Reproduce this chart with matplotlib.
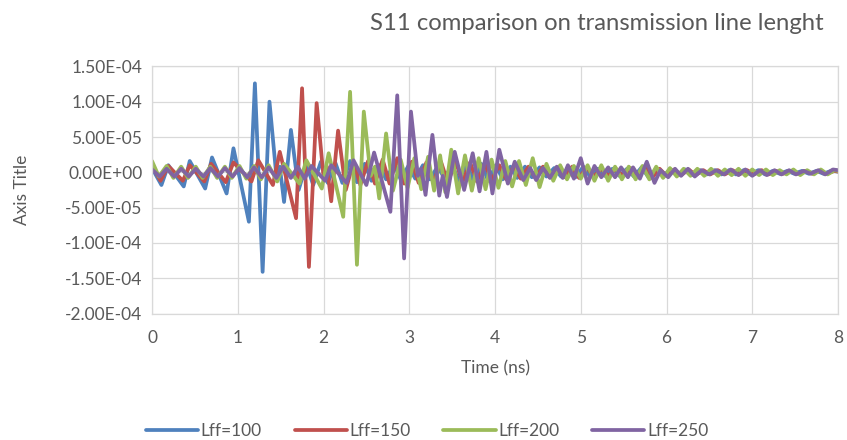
import numpy as np
import matplotlib
matplotlib.use("Agg")
import matplotlib.pyplot as plt
from matplotlib.ticker import FuncFormatter, MultipleLocator

plt.rcParams['font.family'] = ['Lato', 'DejaVu Sans']

# S11 ringing per feed length, peak/trough samples (time in ns, value in 1e-5)
t_100 = [0.00, 0.11, 0.19, 0.37, 0.44, 0.62, 0.70, 0.87,
         0.95, 1.13, 1.20, 1.29, 1.37, 1.45, 1.49, 1.54,
         1.62, 1.71, 1.80, 1.88, 1.97, 2.05, 2.14, 2.22,
         2.31, 2.39, 2.48, 2.56, 2.65, 2.73, 2.82, 2.90,
         2.99, 3.07, 3.16, 3.24, 3.33, 3.41, 3.50, 3.58,
         3.67, 3.75, 3.84, 3.92, 4.01, 4.09, 4.18, 4.26,
         4.35, 4.43, 4.52, 4.60, 4.69, 4.77, 4.86, 4.94,
         5.03, 5.11, 5.20, 5.28, 5.37, 5.45, 5.54, 5.62,
         5.71, 5.79, 5.88, 5.96, 6.05, 6.13, 6.22, 6.30,
         6.39, 6.47, 6.56, 6.64, 6.73, 6.81, 6.90, 6.98,
         7.07, 7.15, 7.24, 7.32, 7.41, 7.49, 7.58, 7.66,
         7.75, 7.83, 7.92, 8.00]
v_100 = [0.6, -1.8, 1.0, -2.0, 1.6, -2.3, 2.1, -3.0,
         3.4, -7.0, 12.6, -14.1, 10.0, -0.5, 0.8, -4.2,
         6.0, -2.5, 1.2, -1.8, 1.5, -1.5, 1.3, -1.5,
         1.6, -1.4, 1.2, -1.2, 1.0, -1.0, 1.2, -1.0,
         0.9, -0.9, 1.0, -1.0, 0.8, -0.8, 1.0, -1.2,
         1.3, -1.3, 1.2, -1.2, 1.0, -1.0, 0.8, -0.8,
         0.8, -0.7, 0.7, -0.6, 0.6, -0.6, 0.7, -0.7,
         0.8, -0.6, 0.5, -0.5, 0.5, -0.5, 0.5, -0.6,
         0.7, -0.7, 0.5, -0.5, 0.4, -0.4, 0.4, -0.4,
         0.3, -0.3, 0.3, -0.3, 0.3, -0.3, 0.3, -0.3,
         0.3, -0.3, 0.2, -0.2, 0.2, -0.2, 0.2, -0.2,
         0.2, -0.2, 0.2, 0.1]

t_150 = [0.00, 0.10, 0.19, 0.36, 0.44, 0.61, 0.69, 0.86,
         0.95, 1.16, 1.24, 1.41, 1.49, 1.68, 1.75, 1.83,
         1.92, 2.00, 2.04, 2.09, 2.17, 2.26, 2.35, 2.43,
         2.52, 2.60, 2.69, 2.77, 2.86, 2.94, 3.03, 3.11,
         3.20, 3.28, 3.37, 3.45, 3.54, 3.62, 3.71, 3.79,
         3.88, 3.96, 4.05, 4.13, 4.22, 4.30, 4.39, 4.47,
         4.56, 4.64, 4.73, 4.81, 4.90, 4.98, 5.07, 5.15,
         5.24, 5.32, 5.41, 5.49, 5.58, 5.66, 5.75, 5.83,
         5.92, 6.00, 6.09, 6.17, 6.26, 6.34, 6.43, 6.51,
         6.60, 6.68, 6.77, 6.85, 6.94, 7.02, 7.11, 7.19,
         7.28, 7.36, 7.45, 7.53, 7.62, 7.70, 7.79, 7.87,
         7.96, 8.00]
v_150 = [0.9, -1.2, 0.9, -1.2, 1.0, -1.3, 1.2, -1.4,
         1.4, -1.3, 1.7, -1.8, 2.9, -6.5, 11.9, -13.4,
         9.8, -0.6, 0.8, -4.1, 5.9, -2.5, 1.5, -1.8,
         1.6, -1.6, 1.8, -1.6, 2.0, -1.6, 1.5, -1.5,
         1.4, -1.4, 1.5, -1.5, 1.6, -1.4, 1.4, -1.3,
         1.2, -1.1, 1.0, -1.0, 0.9, -0.9, 0.8, -0.8,
         0.8, -0.7, 0.7, -0.7, 0.8, -0.8, 0.7, -0.6,
         0.5, -0.5, 0.5, -0.5, 0.6, -0.6, 0.8, -0.8,
         0.5, -0.5, 0.4, -0.4, 0.4, -0.4, 0.3, -0.3,
         0.3, -0.3, 0.3, -0.3, 0.3, -0.3, 0.3, -0.3,
         0.2, -0.2, 0.2, -0.2, 0.2, -0.2, 0.2, -0.2,
         0.2, 0.1]

t_200 = [0.00, 0.08, 0.17, 0.25, 0.34, 0.42, 0.51, 0.59,
         0.68, 0.76, 0.85, 0.93, 1.02, 1.10, 1.19, 1.27,
         1.36, 1.46, 1.54, 1.72, 1.80, 1.98, 2.06, 2.23,
         2.31, 2.39, 2.47, 2.55, 2.60, 2.65, 2.73, 2.81,
         2.90, 2.98, 3.06, 3.14, 3.22, 3.29, 3.36, 3.42,
         3.49, 3.57, 3.65, 3.73, 3.81, 3.89, 3.96, 4.04,
         4.12, 4.20, 4.28, 4.36, 4.44, 4.52, 4.60, 4.68,
         4.76, 4.84, 4.92, 5.00, 5.08, 5.16, 5.24, 5.32,
         5.40, 5.48, 5.56, 5.64, 5.72, 5.80, 5.88, 5.96,
         6.04, 6.12, 6.20, 6.28, 6.36, 6.44, 6.52, 6.60,
         6.68, 6.76, 6.84, 6.92, 7.00, 7.08, 7.16, 7.24,
         7.32, 7.40, 7.48, 7.56, 7.64, 7.72, 7.80, 7.88,
         7.96, 8.00]
v_200 = [1.6, -0.6, 0.9, -0.8, 0.8, -0.8, 0.8, -0.8,
         0.8, -0.8, 0.8, -0.8, 0.9, -0.9, 0.9, -1.0,
         1.0, -1.3, 1.2, -1.6, 1.7, -2.3, 2.7, -6.3,
         11.4, -13.1, 8.6, -0.5, 0.8, -3.7, 5.5, -2.6,
         1.8, -2.2, 2.0, -2.4, 2.2, -2.6, 2.4, -2.8,
         3.2, -3.0, 2.4, -2.6, 2.0, -2.4, 1.8, -2.2,
         1.6, -2.0, 1.6, -1.8, 2.0, -2.1, 1.2, -1.2,
         1.0, -1.0, 0.9, -0.9, 1.0, -1.2, 1.0, -1.2,
         0.8, -1.0, 0.8, -1.0, 0.9, -1.0, 0.8, -0.8,
         0.6, -0.6, 0.5, -0.5, 0.5, -0.5, 0.5, -0.5,
         0.4, -0.4, 0.5, -0.5, 0.4, -0.4, 0.4, -0.4,
         0.3, -0.3, 0.4, -0.4, 0.3, -0.3, 0.4, -0.3,
         0.3, 0.2]

t_250 = [0.00, 0.09, 0.17, 0.26, 0.34, 0.43, 0.51, 0.60,
         0.68, 0.77, 0.85, 0.94, 1.02, 1.11, 1.19, 1.28,
         1.36, 1.45, 1.53, 1.62, 1.70, 1.78, 1.86, 2.02,
         2.09, 2.27, 2.35, 2.50, 2.59, 2.78, 2.86, 2.94,
         3.02, 3.10, 3.14, 3.19, 3.27, 3.35, 3.39, 3.44,
         3.53, 3.64, 3.74, 3.82, 3.90, 3.97, 4.05, 4.15,
         4.23, 4.33, 4.41, 4.48, 4.56, 4.64, 4.72, 4.79,
         4.85, 4.92, 5.00, 5.08, 5.16, 5.24, 5.32, 5.40,
         5.47, 5.55, 5.61, 5.69, 5.77, 5.86, 5.93, 6.02,
         6.10, 6.17, 6.25, 6.33, 6.41, 6.50, 6.58, 6.67,
         6.75, 6.84, 6.92, 7.00, 7.09, 7.17, 7.26, 7.34,
         7.43, 7.51, 7.60, 7.68, 7.77, 7.85, 7.94, 8.00]
v_250 = [0.4, -0.6, 0.5, -0.6, 0.5, -0.6, 0.5, -0.6,
         0.6, -0.6, 0.6, -0.6, 0.6, -0.7, 0.7, -0.7,
         0.7, -0.8, 0.8, -0.8, 0.8, -0.9, 0.9, -1.2,
         1.0, -1.5, 1.7, -1.8, 2.8, -5.6, 10.9, -12.2,
         8.6, -0.5, 0.5, -3.2, 5.3, -3.3, -0.5, -3.5,
         2.9, -2.5, 2.7, -2.7, 2.9, -3.0, 3.2, -1.6,
         1.5, -1.1, 0.6, -1.1, 0.6, -0.8, 0.8, -0.8,
         1.0, -0.9, 2.0, -1.6, 0.9, -0.7, 0.7, -0.7,
         0.7, -0.7, 0.7, -0.9, 1.5, -1.5, 0.3, -0.7,
         0.5, -0.5, 0.5, -0.6, 0.3, -0.3, 0.3, -0.3,
         0.4, -0.4, 0.4, -0.5, 0.3, -0.4, 0.3, -0.3,
         0.3, -0.3, 0.2, -0.2, 0.3, -0.3, 0.4, 0.3]

labels = ['Lff=100', 'Lff=150', 'Lff=200', 'Lff=250']
colors = ['#4F81BD', '#C0504D', '#9BBB59', '#8064A2']
series = [(t_100, v_100), (t_150, v_150), (t_200, v_200), (t_250, v_250)]

grey = '#595959'
grid_c = '#D9D9D9'

fig = plt.figure(figsize=(8.47, 4.40), dpi=100)
ax = fig.add_axes([152 / 847, 1 - 313.5 / 440, (838 - 152) / 847, (313.5 - 66.4) / 440])

for (t, v), c, lab in zip(series, colors, labels):
    ax.plot(t, np.array(v) * 1e-5, color=c, lw=2.7, label=lab,
            solid_joinstyle='round', solid_capstyle='round')

ax.set_xlim(0, 8)
ax.set_ylim(-2.0e-4, 1.5e-4)
ax.xaxis.set_major_locator(MultipleLocator(1))
ax.yaxis.set_major_locator(MultipleLocator(5e-5))
ax.yaxis.set_major_formatter(FuncFormatter(lambda v, p: f"{v:.2E}"))
ax.grid(True, color=grid_c, lw=0.9)
ax.set_axisbelow(True)
for s in ax.spines.values():
    s.set_color(grid_c)
    s.set_linewidth(0.9)
ax.tick_params(length=0, labelsize=12.5, colors=grey)
ax.tick_params(axis='x', pad=12)
ax.tick_params(axis='y', pad=7)

fig.text(597 / 847, 1 - 24 / 440, 'S11 comparison on transmission line lenght',
         ha='center', va='center', fontsize=17.2, color=grey)
fig.text(22 / 847, 1 - 190 / 440, 'Axis Title', rotation=90,
         ha='center', va='center', fontsize=12.5, color=grey)
fig.text(495 / 847, 1 - 368 / 440, 'Time (ns)',
         ha='center', va='center', fontsize=12.5, color=grey)

leg = fig.legend(loc='center', bbox_to_anchor=(427 / 847, 1 - 431 / 440), ncol=4,
                 frameon=False, fontsize=12.5, handlelength=3.0, handletextpad=0.15,
                 columnspacing=1.9)
for txt in leg.get_texts():
    txt.set_color(grey)

fig.savefig('out.png', dpi=100)
